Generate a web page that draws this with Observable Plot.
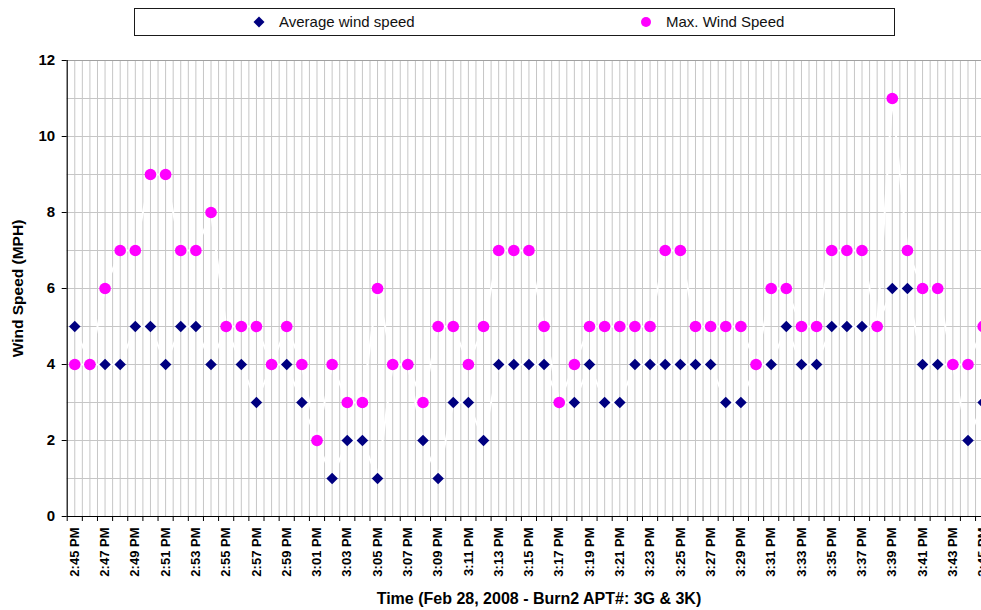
<!DOCTYPE html>
<html>
<head>
<meta charset="utf-8">
<script src="https://cdn.jsdelivr.net/npm/d3@7"></script>
<script src="https://cdn.jsdelivr.net/npm/@observablehq/plot@0.6"></script>
<style>
  html, body { margin: 0; padding: 0; background: #fff; overflow: hidden; width: 981px; height: 610px; }
  #legend { position: relative; width: 981px; height: 45px; font-family: "Liberation Sans", Arial, sans-serif; }
  #legend .box { position: absolute; left: 134px; top: 8px; width: 761px; height: 28px; border: 1px solid #1a1a1a; box-sizing: border-box; background: #fff; }
  #legend .item { position: absolute; top: 13px; height: 18px; line-height: 18px; font-size: 15px; color: #111; white-space: nowrap; }
  #legend svg { position: absolute; }
  #chart { width: 981px; overflow: hidden; }
  #chart svg { display: block; max-width: none !important; }
</style>
</head>
<body>
<div id="legend"></div>
<div id="chart"></div>
<script>
// ---- data ----
const times = [
  "2:45 PM","2:46 PM","2:47 PM","2:48 PM","2:49 PM","2:50 PM","2:51 PM","2:52 PM","2:53 PM","2:54 PM",
  "2:55 PM","2:56 PM","2:57 PM","2:58 PM","2:59 PM","3:00 PM","3:01 PM","3:02 PM","3:03 PM","3:04 PM",
  "3:05 PM","3:06 PM","3:07 PM","3:08 PM","3:09 PM","3:10 PM","3:11 PM","3:12 PM","3:13 PM","3:14 PM",
  "3:15 PM","3:16 PM","3:17 PM","3:18 PM","3:19 PM","3:20 PM","3:21 PM","3:22 PM","3:23 PM","3:24 PM",
  "3:25 PM","3:26 PM","3:27 PM","3:28 PM","3:29 PM","3:30 PM","3:31 PM","3:32 PM","3:33 PM","3:34 PM",
  "3:35 PM","3:36 PM","3:37 PM","3:38 PM","3:39 PM","3:40 PM","3:41 PM","3:42 PM","3:43 PM","3:44 PM",
  "3:45 PM"
];
const avgSpeed = [
  5,4,4,4,5,5,4,5,5,4,
  5,4,3,4,4,3,2,1,2,2,
  1,4,4,2,1,3,3,2,4,4,
  4,4,3,3,4,3,3,4,4,4,
  4,4,4,3,3,4,4,5,4,4,
  5,5,5,5,6,6,4,4,4,2,
  3
];
const maxSpeed = [
  4,4,6,7,7,9,9,7,7,8,
  5,5,5,4,5,4,2,4,3,3,
  6,4,4,3,5,5,4,5,7,7,
  7,5,3,4,5,5,5,5,5,7,
  7,5,5,5,5,4,6,6,5,5,
  7,7,7,5,11,7,6,6,4,4,
  5
];
const yTicks = [0, 2, 4, 6, 8, 10, 12];
const seriesNames = ["Average wind speed", "Max. Wind Speed"];
const xTitle = "Time (Feb 28, 2008 - Burn2 APT#: 3G & 3K)";
const yTitle = "Wind Speed (MPH)";

const data = times.map((t, i) => ({i, t, avg: avgSpeed[i], max: maxSpeed[i]}));

const navy = "#000080", magenta = "#ff00ff";

// square diamond symbol (like Excel's)
const diamond = {
  draw(context, size) {
    const r = Math.sqrt(size / 2);
    context.moveTo(0, -r); context.lineTo(r, 0); context.lineTo(0, r); context.lineTo(-r, 0); context.closePath();
  }
};

// ---- legend ----
const legend = document.getElementById("legend");
legend.innerHTML = `
  <div class="box"></div>
  <svg width="12" height="12" style="left:253px;top:16px"><path d="M6,0.5L11.5,6L6,11.5L0.5,6Z" fill="${navy}"/></svg>
  <div class="item" style="left:279px">${seriesNames[0]}</div>
  <svg width="12" height="12" style="left:640px;top:16px"><circle cx="6" cy="6" r="5" fill="${magenta}"/></svg>
  <div class="item" style="left:666px">${seriesNames[1]}</div>
`;

// ---- chart ----
const W = 992;
const left = 66.7, right = 990.2;
const n = times.length;
const halfSteps = d3.range(1, 2 * n + 1).map(k => -0.5 + k * 0.5);  // vertical gridlines
const boundaries = d3.range(0, n + 1).map(k => k - 0.5);             // category boundaries (tick marks)
const labelIdx = d3.range(0, n, 2);

const chart = Plot.plot({
  width: W,
  height: 565,
  marginTop: 15,
  marginBottom: 94,
  marginLeft: left,
  marginRight: W - right,
  x: {domain: [-0.5, n - 0.5], axis: null},
  y: {domain: [0, 12], axis: null},
  style: {fontFamily: "'Liberation Sans', Arial, sans-serif", background: "white", color: "black", maxWidth: "none"},
  marks: [
    Plot.ruleX(halfSteps, {y1: 0, y2: 12, stroke: "#c6c6c6", strokeWidth: 1}),
    Plot.ruleY(d3.range(1, 12), {stroke: "#c6c6c6", strokeWidth: 1}),
    Plot.ruleY([12], {stroke: "#a0a0a0", strokeWidth: 1.2}),
    Plot.lineY(data, {x: "i", y: "avg", stroke: "white", strokeWidth: 2}),
    Plot.lineY(data, {x: "i", y: "max", stroke: "white", strokeWidth: 2}),
    Plot.ruleX([-0.5], {y1: 0, y2: 12, stroke: "black", strokeWidth: 1.2}),
    Plot.ruleY([0], {stroke: "black", strokeWidth: 1.2}),
    Plot.ruleX(boundaries, {y1: 0, y2: 0, insetBottom: -5, stroke: "black", strokeWidth: 1}),
    Plot.axisY({ticks: yTicks, tickSize: 5, tickPadding: 7, fontSize: 15, fontWeight: "bold", label: null, tickFormat: d => String(d)}),
    Plot.axisX({ticks: labelIdx, tickSize: 0, tickPadding: 11, tickRotate: -90, fontSize: 13, fontWeight: "bold", label: null, tickFormat: i => times[i]}),
    Plot.dot(data, {x: "i", y: "avg", symbol: diamond, r: 4.6, fill: navy, stroke: "none"}),
    Plot.dot(data, {x: "i", y: "max", symbol: "circle", r: 5.8, fill: magenta, stroke: "none"}),
    Plot.text([yTitle], {frameAnchor: "left", dx: -48.7, rotate: -90, textAnchor: "middle", lineAnchor: "middle", fontSize: 15.5, fontWeight: "bold"}),
    Plot.text([xTitle], {frameAnchor: "bottom", dx: 10, dy: 82, textAnchor: "middle", lineAnchor: "middle", fontSize: 16, fontWeight: "bold"})
  ]
});
document.getElementById("chart").appendChild(chart);
</script>
</body>
</html>
